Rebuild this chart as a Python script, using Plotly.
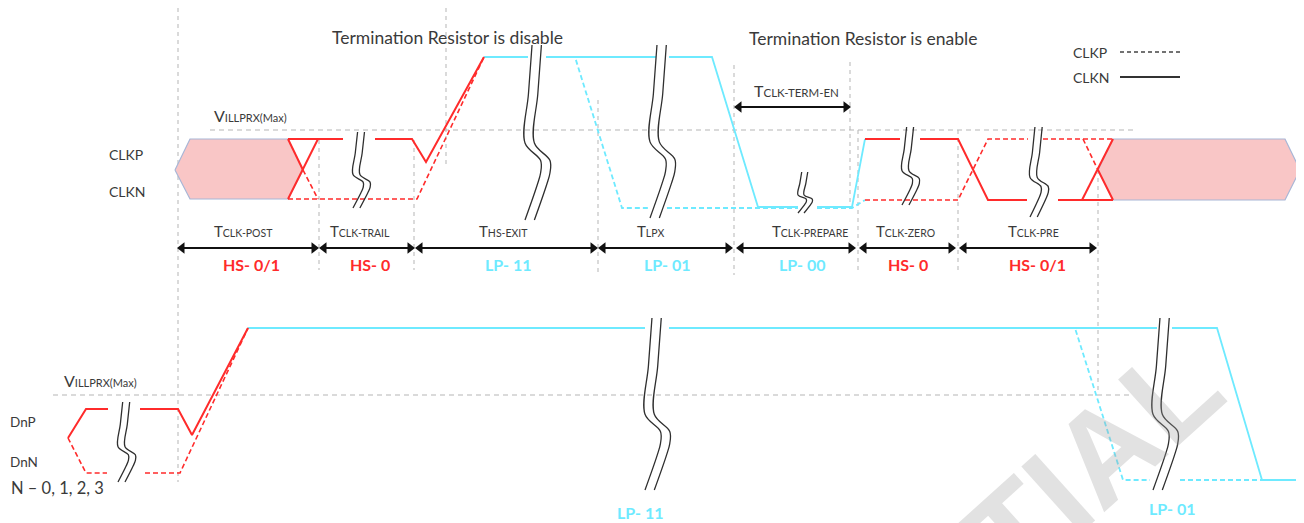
import plotly.graph_objects as go

# ---------------- data (time axis ~ horizontal position, level ~ vertical position) ----------------
# Clock lane (top) waveform vertices; None = break in trace
CLK_HS_SOLID_T = [288, 343, None, 288, 303, None, 288, 318, None, 375, 412, 426, 484, None,
                  865, 900, None, 920, 958, 988, 1027, None, 1058, 1113, None, 1082, 1113, None, 1098, 1113]
CLK_HS_SOLID_V = [139, 139, None, 139, 170, None, 199, 139, None, 139, 139, 162, 57, None,
                  139, 139, None, 139, 139, 200, 200, None, 200, 200, None, 200, 139, None, 170, 200]
CLK_HS_DASH_T = [303, 318, None, 288, 417, 484, None, 865, 958, 988, 1028, None, 1043, 1113, None, 1083, 1098]
CLK_HS_DASH_V = [170, 199, None, 199, 199, 57, None, 200, 200, 139, 139, None, 139, 139, None, 139, 170]
CLK_LP_SOLID_T = [484, 528, None, 546, 656, None, 669, 712, 758, 798, None, 817, 852, 865]
CLK_LP_SOLID_V = [57, 57, None, 57, 57, None, 57, 57, 207, 207, None, 207, 207, 139]
CLK_LP_DASH_T = [484, 528, None, 546, 575, 622, 650, None, 667, 798, None, 817, 852, 865]
CLK_LP_DASH_V = [57, 57, None, 57, 57, 208, 208, None, 208, 208, None, 208, 208, 200]
HEX_LEFT_T = [175, 190, 288, 303, 288, 190, 175]
HEX_LEFT_V = [170, 139, 139, 170, 199, 199, 170]
HEX_RIGHT_T = [1098, 1113, 1285, 1300, 1285, 1113, 1098]
HEX_RIGHT_V = [170, 139, 139, 170, 200, 200, 170]

# Data lane (bottom)
DAT_HS_SOLID_T = [68, 86, 108, None, 140, 178, 192, 248]
DAT_HS_SOLID_V = [438, 409, 409, None, 409, 409, 435, 328]
DAT_HS_DASH_T = [68, 86, 107, None, 145, 180, 248]
DAT_HS_DASH_V = [438, 473, 473, None, 473, 473, 328]
DAT_LP_SOLID_T = [248, 645, None, 669, 1157, None, 1172, 1217, 1262, 1304]
DAT_LP_SOLID_V = [328, 328, None, 328, 328, None, 328, 328, 480, 480]
DAT_LP_DASH_T = [248, 645, None, 669, 1075, 1123, 1150, None, 1180, 1304]
DAT_LP_DASH_V = [328, 328, None, 328, 328, 480, 480, None, 480, 480]

# Break (squiggle) marks: left, top, bottom
BREAK_LEFT = [353, 525, 650, 798, 902, 1030, 118, 645, 1153]
BREAK_TOP = [132, 45, 45, 172, 127, 127, 402, 318, 318]
BREAK_BOTTOM = [208, 220, 218, 213, 205, 217, 482, 490, 490]

# Guide lines
GUIDE_T = [178, 319, 414, 446, 598, 734, 850, 858, 958, 1098]
GUIDE_FROM = [8, 140, 140, 8, 100, 65, 62, 130, 130, 170]
GUIDE_TO = [482, 270, 270, 167, 275, 275, 208, 273, 273, 390]
VIL_LEVELS = [130, 395]
VIL_FROM = [210, 53]
VIL_TO = [1133, 1133]

# Timing intervals
INTERVAL_START = [178, 320, 416, 599, 737, 860, 960]
INTERVAL_END = [318, 414, 597, 732, 855, 955, 1096]
INTERVAL_NAME = ["CLK-POST", "CLK-TRAIL", "HS-EXIT", "LPX", "CLK-PREPARE", "CLK-ZERO", "CLK-PRE"]
INTERVAL_LABEL_T = [243, 360, 503, 650, 810, 905, 1033]
STATE_NAME = ["HS- 0/1", "HS- 0", "LP- 11", "LP- 01", "LP- 00", "HS- 0", "HS- 0/1"]
STATE_KIND = ["HS", "HS", "LP", "LP", "LP", "HS", "HS"]
STATE_LABEL_T = [251, 370, 508, 667, 802, 908, 1037]
TERM_EN = [735, 850]

# ---------------- style ----------------
RED = "#ff2b2b"
CYAN = "#6eeaff"
TXT = "#3a3a3a"
FONT = "Lato"
GUIDE = "#b5b5b5"
ARROW_Y = 248
LABEL_Y = 231
STATE_Y = 264
# the page body has an 8px margin: the figure starts at (8, 8)
OFF = 8
W, H = 1304 - OFF, 523 - OFF

fig = go.Figure()

def add_line(x, y, color, width, dash="solid", shape="linear"):
    fig.add_trace(go.Scatter(x=x, y=y, mode="lines", hoverinfo="skip",
                             line=dict(color=color, width=width, dash=dash, shape=shape)))

# guides
gx, gy = [], []
for t, a, b in zip(GUIDE_T, GUIDE_FROM, GUIDE_TO):
    gx += [t, t, None]; gy += [a, b, None]
add_line(gx, gy, GUIDE, 1, "4px,4px")
hx, hy = [], []
for v, a, b in zip(VIL_LEVELS, VIL_FROM, VIL_TO):
    hx += [a, b, None]; hy += [v, v, None]
add_line(hx, hy, GUIDE, 1, "5px,4px")

# hexagons (HS data)
for hxs, hys in [(HEX_LEFT_T, HEX_LEFT_V), (HEX_RIGHT_T, HEX_RIGHT_V)]:
    fig.add_trace(go.Scatter(x=hxs, y=hys, mode="lines", fill="toself", fillcolor="#f9c6c6",
                             line=dict(color="#a8b6d6", width=1.2), hoverinfo="skip"))

# waveforms
add_line(CLK_LP_SOLID_T, CLK_LP_SOLID_V, CYAN, 1.8)
add_line(CLK_LP_DASH_T, CLK_LP_DASH_V, CYAN, 1.8, "5px,3px")
add_line(CLK_HS_SOLID_T, CLK_HS_SOLID_V, RED, 2)
add_line(CLK_HS_DASH_T, CLK_HS_DASH_V, RED, 1.6, "5px,3px")
add_line(DAT_LP_SOLID_T, DAT_LP_SOLID_V, CYAN, 1.8)
add_line(DAT_LP_DASH_T, DAT_LP_DASH_V, CYAN, 1.8, "5px,3px")
add_line(DAT_HS_SOLID_T, DAT_HS_SOLID_V, RED, 2)
add_line(DAT_HS_DASH_T, DAT_HS_DASH_V, RED, 1.6, "5px,3px")

# break marks
SQ_X = [0.45, 0.22, 0.0, 1.0, 1.0, 0.78, 0.0]
SQ_Y = [0.0, 0.28, 0.56, 0.66, 0.73, 0.80, 1.0]
bx, by = [], []
for l, tp, bt in zip(BREAK_LEFT, BREAK_TOP, BREAK_BOTTOM):
    h = bt - tp
    amp = 6 + 0.055 * h
    gap = 5 + 0.025 * h
    for off in (0, gap):
        bx += [l + off + amp * s for s in SQ_X] + [None]
        by += [tp + h * s for s in SQ_Y] + [None]
add_line(bx, by, "#2f2f2f", 1.3, shape="spline")

# arrows
ax_, ay_ = [], []
starts = INTERVAL_START + [TERM_EN[0]]
ends = INTERVAL_END + [TERM_EN[1]]
ys = [ARROW_Y] * len(INTERVAL_START) + [107]
for a, b, y in zip(starts, ends, ys):
    ax_ += [a + 3, b - 3, None]; ay_ += [y, y, None]
add_line(ax_, ay_, "#111111", 2)
fig.add_trace(go.Scatter(x=[a + 4 for a in starts], y=ys, mode="markers", hoverinfo="skip",
                         marker=dict(symbol="triangle-left", size=10, color="#111111")))
fig.add_trace(go.Scatter(x=[b - 4 for b in ends], y=ys, mode="markers", hoverinfo="skip",
                         marker=dict(symbol="triangle-right", size=10, color="#111111")))

# legend sample lines
add_line([1120, 1180], [52, 52], "#444444", 1.3, "4px,3px")
add_line([1120, 1180], [77, 77], "#333333", 1.8)

ann = []
def text(x, y, s, size=14, color=TXT, xanchor="center", **kw):
    ann.append(dict(x=x, y=y, xref="x", yref="y", text=s, showarrow=False, xanchor=xanchor,
                    yanchor="middle", font=dict(family=FONT, size=size, color=color), **kw))

def sc(main, sub, subsize=10.5):
    return f"{main}<span style='font-size:{subsize}px'>{sub}</span>"

for name, t in zip(INTERVAL_NAME, INTERVAL_LABEL_T):
    text(t, LABEL_Y, sc("T", name), size=15)
text(796, 90, sc("T", "CLK-TERM-EN", 11.5), size=16)
for name, kind, t in zip(STATE_NAME, STATE_KIND, STATE_LABEL_T):
    text(t, STATE_Y, f"<b>{name}</b>", size=16, color=RED if kind == "HS" else CYAN)
text(640, 512, "<b>LP- 11</b>", size=16, color=CYAN)
text(1172, 508, "<b>LP- 01</b>", size=16, color=CYAN)

text(447, 37, "Termination Resistor is disable", size=17.5)
text(863, 38, "Termination Resistor is enable", size=17.5)
text(1071, 52, "CLKP", size=14, xanchor="left")
text(1071, 77, "CLKN", size=14, xanchor="left")
text(212, 115, sc("V", "ILLPRX(Max)", 11), size=16, xanchor="left")
text(62, 380, sc("V", "ILLPRX(Max)", 11), size=16, xanchor="left")
text(107, 154, "CLKP", size=14, xanchor="left")
text(107, 191, "CLKN", size=14, xanchor="left")
text(8, 422, "DnP", size=13.5, xanchor="left")
text(8, 462, "DnN", size=13.5, xanchor="left")
text(9, 488, "N \u2013 0, 1, 2, 3", size=16.5, xanchor="left")

# faint watermark (only its tail is inside the page)
ann.append(dict(x=(1252 - OFF) / W, y=1 - (1070 - OFF) / H, xref="paper", yref="paper",
                text="<b>CONFIDENTIAL</b>", showarrow=False, textangle=-42, opacity=0.3,
                font=dict(family="Liberation Sans", size=130, color="#a0a0a0")))

fig.update_layout(
    width=W, height=H, margin=dict(l=0, r=0, t=0, b=0),
    paper_bgcolor="white", plot_bgcolor="white", showlegend=False,
    xaxis=dict(range=[OFF, 1304], visible=False, fixedrange=True),
    yaxis=dict(range=[523, OFF], visible=False, fixedrange=True),
    annotations=ann,
)
fig.write_html("out.html")
